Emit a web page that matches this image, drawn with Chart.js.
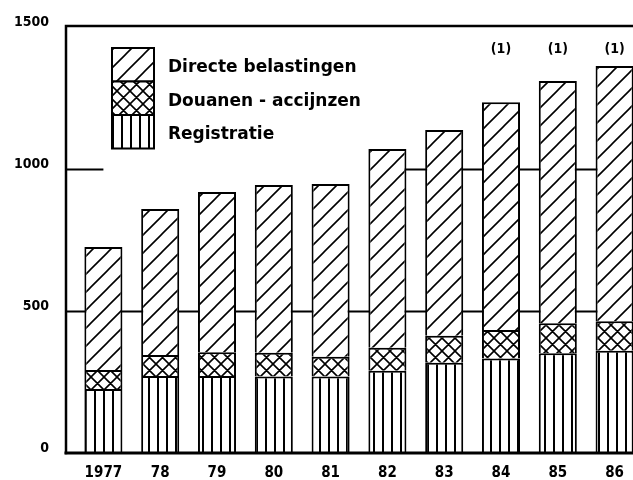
<!DOCTYPE html>
<html>
<head>
<meta charset="utf-8">
<script src="https://cdn.jsdelivr.net/npm/chart.js@4.4.0/dist/chart.umd.min.js"></script>
<style>
  html, body { margin: 0; padding: 0; background: #fff; overflow: hidden; }
  #wrap { width: 652px; height: 480px; }
</style>
</head>
<body>
<div id="wrap"><canvas id="taxChart" width="652" height="480"></canvas></div>
<script>
const years = ["1977", "78", "79", "80", "81", "82", "83", "84", "85", "86"];
const registratie = [225, 271, 271, 269, 269, 290, 318, 333, 351, 360];
const douanen = [67, 74, 84, 84, 70, 81, 95, 100, 106, 104];
const directe = [433, 514, 564, 591, 608, 699, 724, 802, 853, 899];
const notes = ["", "", "", "", "", "", "", "(1)", "(1)", "(1)"];
const yTicks = [0, 500, 1000, 1500];
const refLines = [500, 1000];

const totals = years.map((_, i) => registratie[i] + douanen[i] + directe[i]);

const condensed = "'Liberation Sans Narrow', 'DejaVu Sans Condensed', 'DejaVu Sans', sans-serif";

function makeTile(w, h, draw) {
  const c = document.createElement("canvas");
  c.width = w;
  c.height = h;
  const g = c.getContext("2d");
  g.fillStyle = "#fff";
  g.fillRect(0, 0, w, h);
  g.strokeStyle = "#000";
  g.fillStyle = "#000";
  draw(g, w, h);
  return document.createElement("canvas").getContext("2d").createPattern(c, "repeat");
}

// diagonal "/" hatch
const slashFill = makeTile(18, 18, (g, s) => {
  g.lineWidth = 1.6;
  g.beginPath();
  g.moveTo(-2, s + 2); g.lineTo(s + 2, -2);
  g.moveTo(-2, 2); g.lineTo(2, -2);
  g.moveTo(s - 2, s + 2); g.lineTo(s + 2, s - 2);
  g.stroke();
});

// cross hatch
const crossFill = makeTile(13, 13, (g, s) => {
  g.lineWidth = 1.6;
  g.beginPath();
  g.moveTo(-2, s + 2); g.lineTo(s + 2, -2);
  g.moveTo(-2, 2); g.lineTo(2, -2);
  g.moveTo(s - 2, s + 2); g.lineTo(s + 2, s - 2);
  g.moveTo(-2, -2); g.lineTo(s + 2, s + 2);
  g.moveTo(-2, s - 2); g.lineTo(2, s + 2);
  g.moveTo(s - 2, -2); g.lineTo(s + 2, 2);
  g.stroke();
});

// vertical lines
const barsFill = makeTile(9, 4, (g) => {
  g.fillRect(4, 0, 2, 4);
});

const framePlugin = {
  id: "frame",
  beforeDatasetsDraw(chart) {
    const { ctx, chartArea, scales } = chart;
    const bars = chart.getDatasetMeta(0).data;
    const axisX = chartArea.left - 9;
    ctx.save();
    ctx.strokeStyle = "#000";
    ctx.lineWidth = 2;
    refLines.forEach((v) => {
      const py = Math.round(scales.y.getPixelForValue(v)) + 0.5;
      ctx.beginPath();
      ctx.moveTo(axisX, py);
      ctx.lineTo(bars[0].x, py);
      for (let i = 0; i < bars.length - 1; i++) {
        if (totals[i] > v && totals[i + 1] > v) {
          ctx.moveTo(bars[i].x, py);
          ctx.lineTo(bars[i + 1].x, py);
        }
      }
      ctx.stroke();
    });
    ctx.restore();
  },
  afterDraw(chart) {
    const { ctx, chartArea, width } = chart;
    const axisX = chartArea.left - 9;
    const bars = chart.getDatasetMeta(0).data;
    ctx.save();
    ctx.strokeStyle = "#000";
    ctx.lineCap = "square";
    ctx.lineWidth = 2.5;
    ctx.beginPath();
    ctx.moveTo(axisX, chartArea.top - 1);
    ctx.lineTo(axisX, chartArea.bottom);
    ctx.moveTo(axisX, chartArea.top - 1);
    ctx.lineTo(width, chartArea.top - 1);
    ctx.stroke();
    ctx.lineWidth = 3;
    ctx.beginPath();
    ctx.moveTo(axisX, chartArea.bottom);
    ctx.lineTo(width, chartArea.bottom);
    ctx.stroke();

    // footnote marks
    ctx.fillStyle = "#000";
    ctx.font = "bold 14px " + condensed;
    ctx.textAlign = "center";
    ctx.textBaseline = "middle";
    notes.forEach((n, i) => {
      if (n) ctx.fillText(n, bars[i].x, chartArea.top + 22);
    });

    // legend: one stacked column of pattern boxes
    const lx = 112, ly = 48, lw = 42, lh = 33.5;
    const items = chart.data.datasets.slice().reverse();
    ctx.font = "bold 17px 'DejaVu Sans', sans-serif";
    ctx.textAlign = "left";
    items.forEach((ds, k) => {
      const top = ly + k * lh;
      ctx.fillStyle = ds.backgroundColor;
      ctx.fillRect(lx, top, lw, lh);
      ctx.lineWidth = 2;
      ctx.strokeRect(lx, top, lw, lh);
      ctx.fillStyle = "#000";
      ctx.fillText(ds.label, lx + 56, top + lh / 2 + 3);
    });
    ctx.restore();
  }
};

const datasetStyle = {
  borderColor: "#000",
  borderWidth: 2,
  barPercentage: 0.67,
  categoryPercentage: 1
};

new Chart(document.getElementById("taxChart"), {
  type: "bar",
  data: {
    labels: years,
    datasets: [
      { label: "Registratie", data: registratie, backgroundColor: barsFill, ...datasetStyle },
      { label: "Douanen - accijnzen", data: douanen, backgroundColor: crossFill, ...datasetStyle },
      { label: "Directe belastingen", data: directe, backgroundColor: slashFill, ...datasetStyle }
    ]
  },
  options: {
    responsive: false,
    animation: false,
    layout: { padding: { top: 27, right: 9, left: 0, bottom: 0 } },
    plugins: {
      legend: { display: false },
      tooltip: { enabled: false }
    },
    scales: {
      x: {
        stacked: true,
        grid: { display: false, drawTicks: false },
        border: { display: false },
        ticks: {
          color: "#000",
          padding: 11,
          maxRotation: 0,
          font: { family: condensed, size: 15, weight: "bold" }
        },
        afterFit(scale) { scale.height = 27; }
      },
      y: {
        stacked: true,
        min: 0,
        max: 1500,
        afterBuildTicks(scale) { scale.ticks = yTicks.map((v) => ({ value: v })); },
        grid: { display: false, drawTicks: false },
        border: { display: false },
        ticks: {
          color: "#000",
          padding: 26,
          labelOffset: -5,
          callback: (v) => String(v),
          font: { family: condensed, size: 14, weight: "bold" }
        },
        afterFit(scale) {
          scale.width = 75;
          scale.paddingTop = 0;
          scale.paddingBottom = 0;
        }
      }
    }
  },
  plugins: [framePlugin]
});
</script>
</body>
</html>
